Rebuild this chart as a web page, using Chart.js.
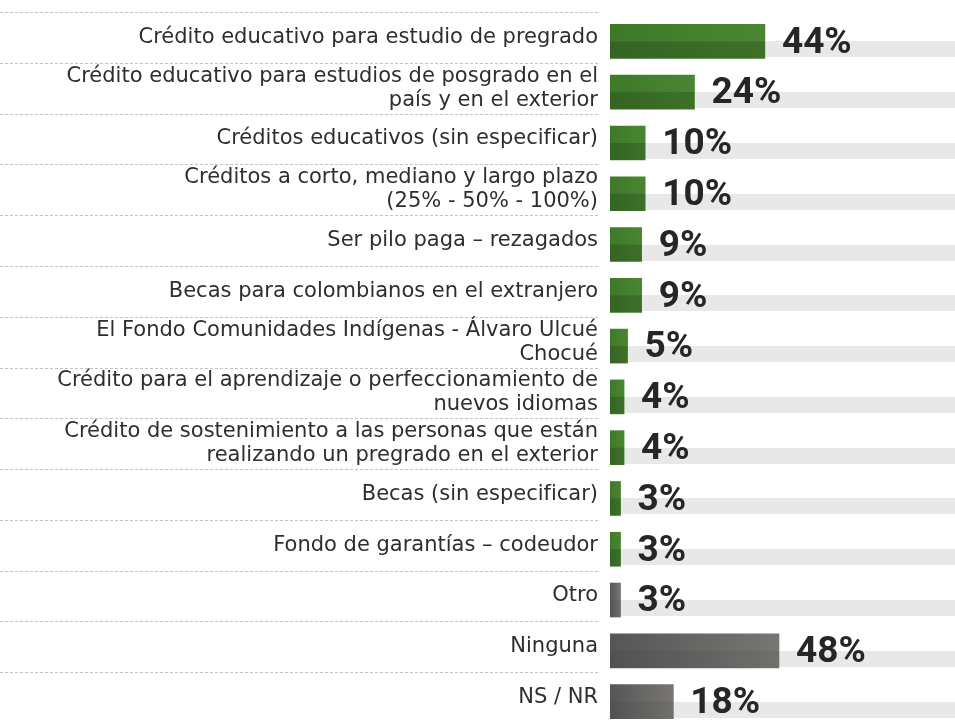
<!DOCTYPE html>
<html lang="es">
<head>
<meta charset="utf-8">
<title>Créditos y becas conocidos</title>
<script src="https://cdn.jsdelivr.net/npm/chart.js@4/dist/chart.umd.min.js"></script>
<style>
  html, body { margin: 0; padding: 0; background: #fff; overflow: hidden; }
  #wrap { position: relative; width: 955px; height: 727px; }
</style>
</head>
<body>
<div id="wrap"><canvas id="chart"></canvas></div>
<script>
// Data
const categories = [
  'Crédito educativo para estudio de pregrado',
  ['Crédito educativo para estudios de posgrado en el', 'país y en el exterior'],
  'Créditos educativos (sin especificar)',
  ['Créditos a corto, mediano y largo plazo', '(25% - 50% - 100%)'],
  'Ser pilo paga – rezagados',
  'Becas para colombianos en el extranjero',
  ['El Fondo Comunidades Indígenas - Álvaro Ulcué', 'Chocué'],
  ['Crédito para el aprendizaje o perfeccionamiento de', 'nuevos idiomas'],
  ['Crédito de sostenimiento a las personas que están', 'realizando un pregrado en el exterior'],
  'Becas (sin especificar)',
  'Fondo de garantías – codeudor',
  'Otro',
  'Ninguna',
  'NS / NR',
];
const values = [44, 24, 10, 10, 9, 9, 5, 4, 4, 3, 3, 3, 48, 18];
// 'programa' = a named credit / scholarship, 'resto' = other answers
const kinds = [
  'programa', 'programa', 'programa', 'programa', 'programa', 'programa',
  'programa', 'programa', 'programa', 'programa', 'programa',
  'resto', 'resto', 'resto',
];
const axisMax = 98;

const PALETTE = {
  programa: { from: '#3e792a', to: '#4a8631', shade: 'rgba(0,0,0,0.16)' },
  resto: { from: '#565656', to: '#777673', shade: 'rgba(0,0,0,0.05)' },
};
const TRACK = '#e8e8e8';
const DASH = '#c4c4c4';
const LABEL = '#2e2e2e';
const VALUE = '#262626';

function barFill(ctx) {
  const chart = ctx.chart;
  const pal = PALETTE[kinds[ctx.dataIndex]] || PALETTE.programa;
  if (ctx.type !== 'data' || !chart.scales.x) return pal.from;
  const x = chart.scales.x;
  const x0 = x.getPixelForValue(0);
  const x1 = x.getPixelForValue(ctx.raw);
  if (!isFinite(x0) || !isFinite(x1) || x1 <= x0) return pal.from;
  const g = chart.ctx.createLinearGradient(x0, 0, x1, 0);
  g.addColorStop(0, pal.from);
  g.addColorStop(1, pal.to);
  return g;
}

// Dashed separators under the labels
const separators = {
  id: 'separators',
  beforeDraw(chart) {
    const { ctx, chartArea } = chart;
    const band = (chartArea.bottom - chartArea.top) / categories.length;
    ctx.save();
    ctx.strokeStyle = DASH;
    ctx.lineWidth = 1;
    ctx.setLineDash([3, 2]);
    for (let i = 0; i < categories.length; i++) {
      const y = Math.round(chartArea.top + i * band - 4) + 0.5;
      ctx.beginPath();
      ctx.moveTo(0, y);
      ctx.lineTo(chartArea.left - 10, y);
      ctx.stroke();
    }
    ctx.restore();
  },
};

// Light track behind the lower half of every bar
const tracks = {
  id: 'tracks',
  beforeDatasetsDraw(chart) {
    const { ctx, chartArea } = chart;
    const meta = chart.getDatasetMeta(0);
    ctx.save();
    ctx.fillStyle = TRACK;
    meta.data.forEach(el => {
      const top = Math.round(el.y);
      const bottom = Math.round(el.y + el.height / 2) - 1;
      ctx.fillRect(chartArea.left, top, chartArea.right - chartArea.left, bottom - top);
    });
    ctx.restore();
  },
};

// Darker lower half of the bars + value labels
const valueLabels = {
  id: 'valueLabels',
  afterDatasetsDraw(chart) {
    const { ctx } = chart;
    const meta = chart.getDatasetMeta(0);
    ctx.save();
    meta.data.forEach((el, i) => {
      const pal = PALETTE[kinds[i]];
      ctx.fillStyle = pal.shade;
      ctx.fillRect(el.base, el.y, el.x - el.base, el.height / 2);
    });
    ctx.fillStyle = VALUE;
    ctx.font = 'bold 37px Roboto, "Liberation Sans", sans-serif';
    ctx.textAlign = 'left';
    ctx.textBaseline = 'middle';
    meta.data.forEach((el, i) => {
      ctx.fillText(values[i] + '%', el.x + 17, el.y + 2);
    });
    ctx.restore();
  },
};

new Chart(document.getElementById('chart'), {
  type: 'bar',
  data: {
    labels: categories,
    datasets: [{
      label: 'Porcentaje',
      data: values,
      backgroundColor: barFill,
      borderWidth: 0,
      barThickness: 34,
    }],
  },
  options: {
    indexAxis: 'y',
    responsive: true,
    maintainAspectRatio: false,
    animation: false,
    layout: { padding: { top: 16, right: 0, bottom: 0, left: 0 } },
    plugins: {
      legend: { display: false },
      tooltip: { enabled: false },
    },
    scales: {
      x: {
        display: false,
        min: 0,
        max: axisMax,
      },
      y: {
        afterFit(scale) {
          scale.width = 610;
          scale.paddingTop = 0;
          scale.paddingBottom = 0;
        },
        grid: { display: false, drawTicks: false },
        border: { display: false },
        ticks: {
          color: LABEL,
          padding: 12,
          labelOffset: -4,
          autoSkip: false,
          font: { family: '"DejaVu Sans", sans-serif', size: 21, lineHeight: 1.143 },
        },
      },
    },
  },
  plugins: [separators, tracks, valueLabels],
});
</script>
</body>
</html>
